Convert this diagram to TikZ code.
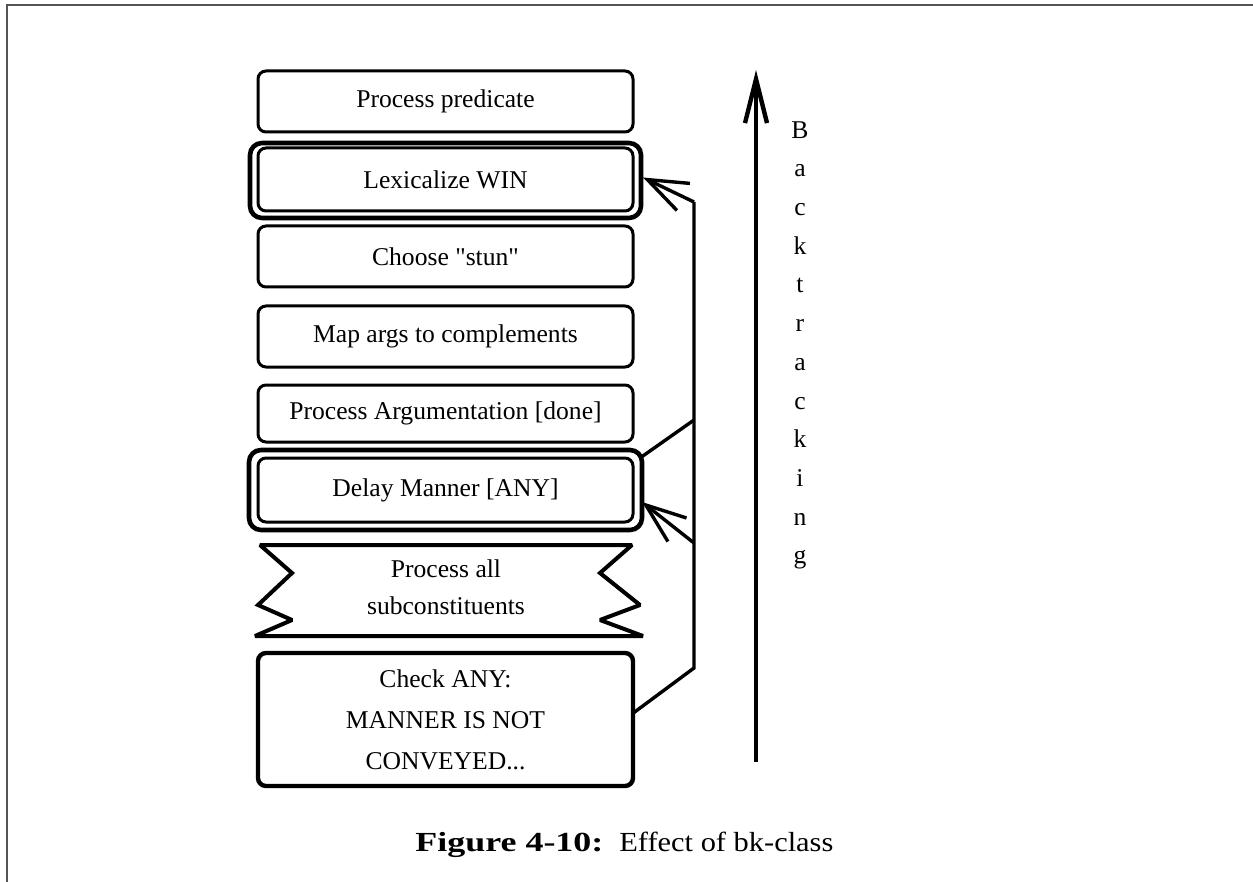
\documentclass[tikz,border=0pt]{standalone}
\usepackage{fontspec}
\setmainfont{Liberation Serif}[Ligatures=TeXOff]
\usetikzlibrary{arrows.meta,calc}

\begin{document}
\begin{tikzpicture}[x=0.5pt,y=-0.5pt,
  txt/.style={font=\fontsize{12.8}{15}\selectfont, align=center},
  box/.style={txt, draw, rounded corners=4pt, line width=1.5pt,
    minimum width=187.5pt, inner sep=0pt, outer sep=0pt},
  thickbox/.style={box, line width=2.2pt},
  outerbox/.style={draw, rounded corners=6pt, line width=2.3pt,
    minimum width=195.5pt, inner sep=0pt, outer sep=0pt},
  conn/.style={line width=1.7pt, line join=miter},
  barb/.style={-{Straight Barb[length=20pt,width=15pt]}},
  frame/.style={draw=black!67, line width=1pt}
]
\useasboundingbox (0,0) rectangle (1253,882);

% page frame
\draw[frame] (1253,5) -- (7,5) -- (7,882);

% stack of steps
\node[box, minimum height=30.5pt] (pred) at (445.5,101.5) {Process predicate};
\node[outerbox, minimum height=37.5pt] (lexo) at (445.5,180.5) {};
\node[box, minimum height=31.5pt] (lex) at (445.5,179.5) {Lexicalize WIN};
\node[box, minimum height=30.5pt] (stun) at (445.5,256.5) {Choose "stun"};
\node[box, minimum height=30.5pt] (map) at (445.5,336.5) {Map args to complements};
\node[box, minimum height=28.5pt] (parg) at (445.5,413.5) {Process Argumentation [done]};
\node[outerbox, minimum width=196.5pt, minimum height=40pt] (dlo) at (445.5,490) {};
\node[box, minimum height=32pt] (dly) at (445.5,490) {Delay Manner [ANY]};

% zigzag-edged step
\draw[line width=2pt, line join=miter, miter limit=2]
  (260,545) -- (632,545) -- (600,573) -- (640,605) -- (600,620) -- (643,636)
  -- (255,636) -- (292,620) -- (258,605) -- (292,573) -- cycle;
\node[txt, font=\fontsize{12.8}{18.5}\selectfont] (sub) at (446,587)
  {Process all\\subconstituents};

\node[thickbox, minimum height=66.5pt, font=\fontsize{12.8}{20.5}\selectfont]
  (chk) at (445.5,719.5) {Check ANY:\\MANNER IS NOT\\CONVEYED...};

% backtracking connectors
\coordinate (jb) at (694,668);
\coordinate (jt) at (694,202);
\coordinate (jd) at (694,543);
\coordinate (jp) at (694,420);
\draw[conn] ($(chk.east)+(1,-7)$) -- (jb) -- (jt);
\draw[conn, barb] (jt) -- ($(lexo.east)+(2,-3)$);
\draw[conn, barb] (jd) -- ($(dlo.east)+(0,12)$);
\draw[conn] ($(dlo.north east)+(-2,8)$) -- (jp);

% backtracking direction
\coordinate (btb) at (756,762);
\coordinate (btt) at (756,70);
\draw[line width=2.2pt, -{Straight Barb[length=22pt,width=11pt]}] (btb) -- (btt);
\node[txt, font=\fontsize{12.8}{19.35}\selectfont, inner sep=0pt, anchor=north]
  (bt) at (800,121) {B\\a\\c\\k\\t\\r\\a\\c\\k\\i\\n\\g};

% caption
\node[txt, font=\fontsize{13.8}{15}\selectfont, anchor=base west, inner sep=0pt]
  (capa) at (415,851) {\resizebox{94pt}{\height}{\textbf{Figure 4-10:}}};
\node[txt, font=\fontsize{13.8}{15}\selectfont, anchor=base west, inner sep=0pt]
  (capb) at (619,851) {\resizebox{107pt}{\height}{Effect of bk-class}};
\end{tikzpicture}
\end{document}
